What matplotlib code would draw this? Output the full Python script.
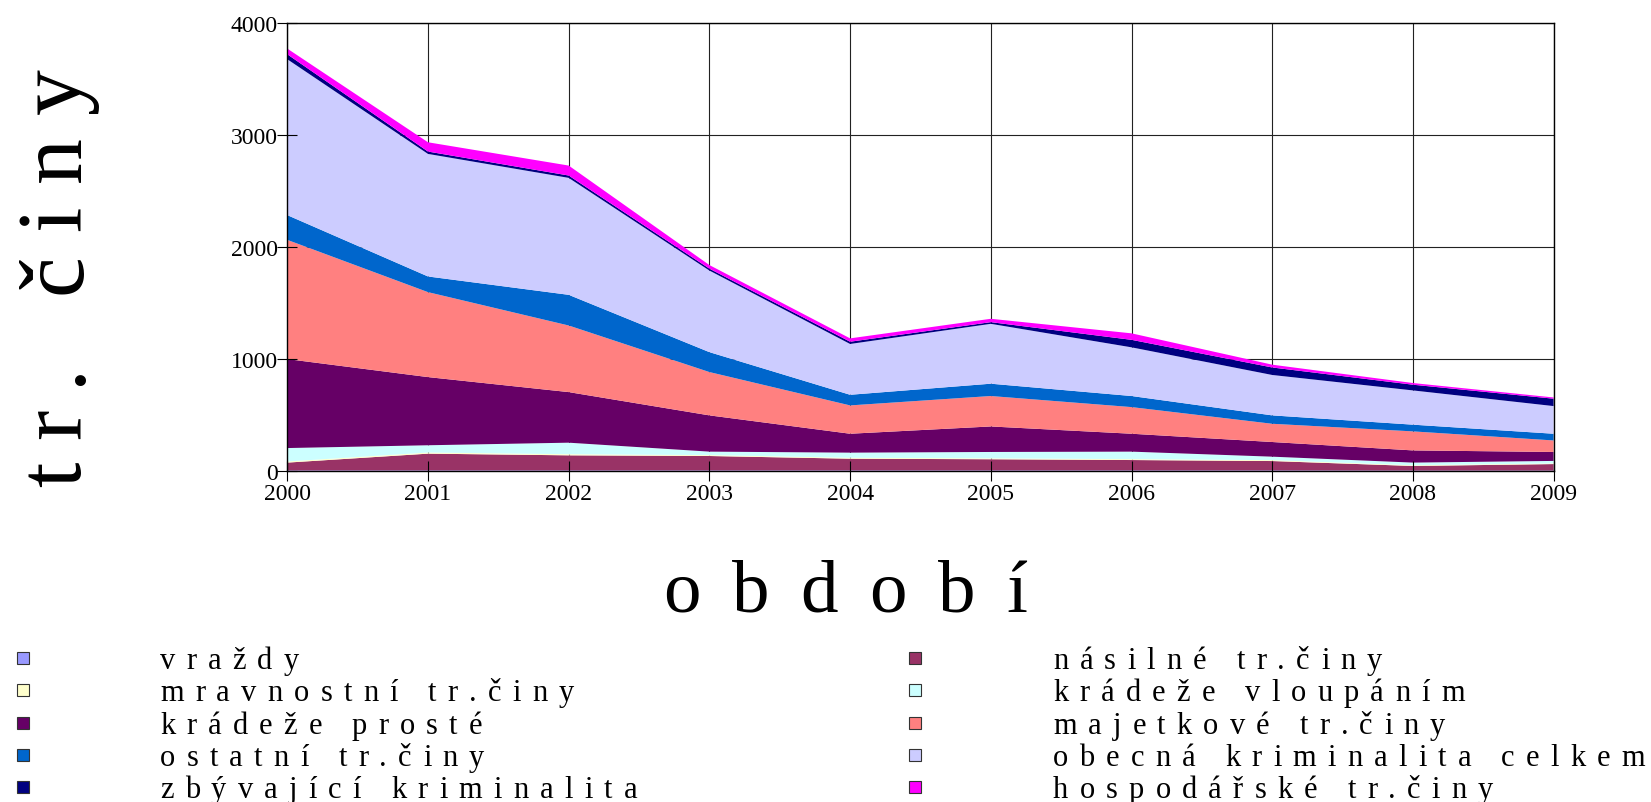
import matplotlib
matplotlib.use("Agg")
import matplotlib.pyplot as plt
from matplotlib.font_manager import FontProperties, findfont
from matplotlib.ft2font import FT2Font
from matplotlib.patches import Rectangle

# ---------------- data ----------------
years = [2000, 2001, 2002, 2003, 2004, 2005, 2006, 2007, 2008, 2009]

vrazdy      = [5, 5, 5, 5, 5, 5, 5, 5, 4, 4]
nasilne     = [70, 150, 135, 129, 105, 100, 93, 84, 41, 58]
mravnostni  = [10, 10, 10, 8, 8, 8, 8, 8, 6, 6]
vloupanim   = [120, 65, 103, 31, 46, 57, 67, 31, 24, 22]
proste      = [795, 609, 452, 324, 169, 228, 160, 131, 109, 80]
majetkove   = [1065, 759, 595, 387, 253, 272, 238, 163, 170, 103]
ostatni     = [221, 140, 274, 178, 95, 110, 99, 75, 60, 60]
obecna      = [1393, 1095, 1045, 729, 454, 535, 435, 361, 306, 247]
zbyvajici   = [44, 21, 21, 17, 20, 15, 67, 67, 51, 66]
hospodarske = [51, 83, 89, 32, 30, 30, 58, 25, 15, 11]

labels = ["vraždy", "násilné tr.činy", "mravnostní tr.činy", "krádeže vloupáním",
          "krádeže prosté", "majetkové tr.činy", "ostatní tr.činy",
          "obecná kriminalita celkem", "zbývající kriminalita", "hospodářské tr.činy"]
colors = ["#9999FF", "#993366", "#FFFFCC", "#CCFFFF", "#660066",
          "#FF8080", "#0066CC", "#CCCCFF", "#000080", "#FF00FF"]
yticks = [0, 1000, 2000, 3000, 4000]

series = [vrazdy, nasilne, mravnostni, vloupanim, proste,
          majetkove, ostatni, obecna, zbyvajici, hospodarske]

# ---------------- figure ----------------
W, H, DPI = 1651, 803, 100
SERIF = "Liberation Serif"
plt.rcParams["font.family"] = SERIF

fig = plt.figure(figsize=(W / DPI, H / DPI), dpi=DPI)
ax = fig.add_axes([287.3 / W, (H - 472) / H, (1553.6 - 287.3) / W, (472 - 24.3) / H])

# grid drawn under the areas, ticks stay on top
ax.vlines(years, yticks[0], yticks[-1], colors="#222222", linewidth=0.8, zorder=0.5)
ax.hlines(yticks, years[0], years[-1], colors="#222222", linewidth=0.8, zorder=0.5)

ax.stackplot(years, *series, colors=colors, linewidth=0, zorder=1)

ax.set_xlim(years[0], years[-1])
ax.set_ylim(yticks[0], yticks[-1])
ax.set_xticks(years)
ax.set_yticks(yticks)
ax.tick_params(direction="inout", length=14, width=0.8, labelsize=17, colors="black")
ax.tick_params(axis="y", pad=0)
ax.tick_params(axis="x", pad=2)
for sp in ax.spines.values():
    sp.set_linewidth(1.0)
    sp.set_color("black")
    sp.set_zorder(3)

# ---------------- letter-spaced text helpers ----------------
ft = FT2Font(findfont(FontProperties(family=SERIF)))


def adv(ch, size):
    # advance of one glyph in pixels
    ft.set_size(size, 72)
    return ft.load_char(ord(ch)).linearHoriAdvance / 65536 * DPI / 72


def natural_width(s, size):
    return sum(adv(c, size) for c in s)


def spaced(x, y, s, size, track, vertical=False):
    # x, y in figure pixels (origin bottom-left), baseline start of the string
    pos = 0.0
    for c in s:
        if c != " ":
            if vertical:
                fig.text(x / W, (y + pos) / H, c, fontsize=size, family=SERIF,
                         rotation=90, rotation_mode="anchor", ha="left", va="baseline")
            else:
                fig.text((x + pos) / W, y / H, c, fontsize=size, family=SERIF,
                         ha="left", va="baseline")
        pos += adv(c, size) + track


# y label
ylab, ysize, yspan = "tr. činy", 66, 419
ytrack = (yspan - natural_width(ylab, ysize)) / (len(ylab) - 1)
spaced(80, H - 487, ylab, ysize, ytrack, vertical=True)

# x label
xlab, xsize, xspan = "období", 54, 364
xtrack = (xspan - natural_width(xlab, xsize)) / (len(xlab) - 1)
spaced(845 - xspan / 2, H - 612, xlab, xsize, xtrack)

# ---------------- legend (two columns, row-wise order) ----------------
leg_size = 22
widest = "obecná kriminalita celkem"
leg_track = (592 - natural_width(widest, leg_size)) / (len(widest) - 1)
col_marker = [17, 909]
col_text = [160, 1053]
for i, (lab, col) in enumerate(zip(labels, colors)):
    c, r = i % 2, i // 2
    base = H - (669 + r * 32.3)
    fig.add_artist(Rectangle((col_marker[c] / W, (base + 4) / H), 12 / W, 12 / H,
                             transform=fig.transFigure, facecolor=col,
                             edgecolor="#333333", linewidth=0.8))
    spaced(col_text[c], base, lab, leg_size, leg_track)

fig.savefig("out.png", dpi=DPI)
